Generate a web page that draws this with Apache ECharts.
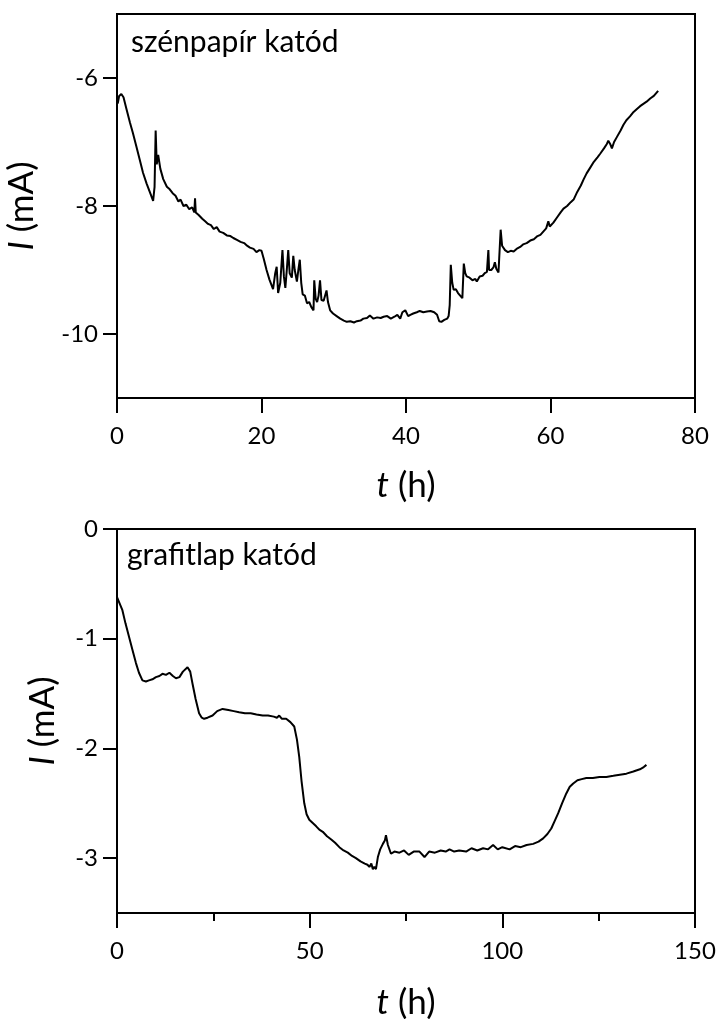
<!DOCTYPE html>
<html>
<head>
<meta charset="utf-8">
<title>I(t)</title>
<script src="https://cdn.jsdelivr.net/npm/echarts@6/dist/echarts.min.js"></script>
<style>
  html, body { margin: 0; padding: 0; background: #fff; }
  #chart { width: 718px; height: 1019px; }
</style>
</head>
<body>
<div id="chart"></div>
<script>
// szénpapír katód – t (h)
const topT = [
  0.1, 0.3, 0.6, 0.9, 1.3, 1.8, 2.2, 2.7, 3.2, 3.6, 4.1, 4.6, 5.0, 5.2, 5.35, 5.5, 5.7, 6.0, 6.4, 6.9,
  7.3, 7.7, 8.1, 8.5, 8.8, 9.2, 9.6, 10.0, 10.4, 10.7, 10.8, 10.9, 11.3, 11.8, 12.2, 12.6, 13.0, 13.4, 13.8, 14.2,
  14.7, 15.2, 15.7, 16.1, 16.6, 17.1, 17.6, 18.0, 18.4, 18.9, 19.3, 19.7, 20.0, 20.3, 20.7, 21.1, 21.6, 21.9, 22.1, 22.3,
  22.6, 22.9, 23.1, 23.3, 23.5, 23.7, 23.9, 24.2, 24.4, 24.6, 24.9, 25.1, 25.3, 25.5, 25.7, 26.0, 26.3, 26.6, 26.9, 27.2,
  27.3, 27.5, 27.7, 27.9, 28.1, 28.3, 28.6, 29.0, 29.2, 29.5, 29.9, 30.4, 30.9, 31.4, 31.8, 32.3, 32.8, 33.2, 33.7, 34.1,
  34.6, 35.0, 35.5, 36.0, 36.5, 36.9, 37.4, 37.9, 38.4, 38.8, 39.2, 39.5, 39.9, 40.3, 40.6, 41.0, 41.5, 41.9, 42.4, 42.9,
  43.4, 43.9, 44.3, 44.6, 44.9, 45.3, 45.7, 45.9, 46.05, 46.2, 46.4, 46.6, 46.9, 47.2, 47.5, 47.8, 48.0, 48.2, 48.4, 48.8,
  49.2, 49.6, 49.8, 50.2, 50.6, 50.9, 51.2, 51.4, 51.5, 51.8, 52.1, 52.3, 52.5, 52.8, 53.0, 53.1, 53.3, 53.7, 54.1, 54.5,
  54.9, 55.3, 55.8, 56.2, 56.7, 57.2, 57.7, 58.2, 58.6, 59.0, 59.4, 59.7, 59.9, 60.4, 60.9, 61.4, 61.8, 62.3, 62.8, 63.2,
  63.7, 64.2, 64.6, 65.0, 65.5, 66.0, 66.5, 66.9, 67.4, 67.8, 68.0, 68.3, 68.5, 68.8, 69.2, 69.7, 70.1, 70.5, 71.0, 71.5,
  72.0, 72.4, 72.9, 73.3, 73.8, 74.3, 74.6, 74.9
]
// szénpapír katód – I (mA)
const topI = [
  -6.40, -6.28, -6.25, -6.30, -6.48, -6.70, -6.86, -7.08, -7.30, -7.48, -7.65, -7.80, -7.92, -7.70, -6.82, -7.35, -7.20, -7.42, -7.58, -7.70,
  -7.74, -7.80, -7.84, -7.93, -7.90, -8.00, -7.98, -8.05, -8.02, -8.10, -7.88, -8.10, -8.14, -8.20, -8.24, -8.28, -8.30, -8.36, -8.33, -8.40,
  -8.42, -8.46, -8.47, -8.50, -8.53, -8.56, -8.58, -8.62, -8.65, -8.67, -8.72, -8.69, -8.70, -8.82, -9.00, -9.15, -9.30, -9.05, -8.95, -9.36,
  -9.20, -8.69, -9.10, -9.28, -9.00, -8.69, -9.05, -9.12, -8.78, -9.00, -9.18, -9.00, -8.84, -9.20, -9.38, -9.40, -9.52, -9.50, -9.58, -9.63,
  -9.16, -9.45, -9.50, -9.40, -9.16, -9.47, -9.48, -9.32, -9.50, -9.63, -9.68, -9.72, -9.76, -9.79, -9.81, -9.80, -9.82, -9.80, -9.79, -9.76,
  -9.75, -9.71, -9.76, -9.74, -9.75, -9.73, -9.72, -9.76, -9.73, -9.70, -9.76, -9.66, -9.63, -9.72, -9.70, -9.68, -9.66, -9.64, -9.66, -9.65,
  -9.64, -9.66, -9.70, -9.80, -9.81, -9.78, -9.76, -9.72, -9.55, -8.92, -9.20, -9.31, -9.30, -9.36, -9.40, -9.44, -8.90, -9.05, -9.10, -9.12,
  -9.16, -9.14, -9.18, -9.10, -9.09, -9.05, -9.03, -8.69, -9.00, -9.00, -8.96, -8.88, -8.98, -9.04, -9.05, -8.37, -8.62, -8.69, -8.72, -8.70,
  -8.71, -8.67, -8.64, -8.60, -8.58, -8.54, -8.52, -8.47, -8.45, -8.40, -8.35, -8.24, -8.32, -8.26, -8.18, -8.10, -8.04, -8.00, -7.94, -7.90,
  -7.78, -7.68, -7.58, -7.49, -7.40, -7.31, -7.24, -7.18, -7.10, -7.03, -6.98, -7.04, -7.10, -7.00, -6.92, -6.82, -6.73, -6.66, -6.60, -6.53,
  -6.48, -6.44, -6.40, -6.37, -6.32, -6.28, -6.24, -6.20
]

// grafitlap katód – t (h)
const bottomT = [
  0.0, 0.5, 1.4, 2.2, 3.1, 4.0, 4.9, 5.7, 6.6, 7.5, 8.3, 9.2, 10.1, 11.0, 11.8, 12.7, 13.6, 14.5, 15.3, 16.2,
  17.1, 18.3, 19.0, 19.6, 20.4, 21.3, 22.0, 22.6, 23.5, 24.8, 26.0, 27.4, 28.9, 30.3, 31.7, 33.2, 34.7, 36.2, 37.8, 39.2,
  40.7, 41.5, 42.1, 42.8, 43.9, 45.0, 46.0, 46.7, 47.3, 47.9, 48.6, 49.2, 49.9, 50.8, 51.7, 52.5, 53.4, 54.5, 55.6, 56.6,
  57.7, 58.8, 59.9, 61.0, 62.0, 63.2, 64.3, 65.0, 65.5, 66.0, 66.4, 66.8, 67.2, 67.7, 68.3, 69.0, 69.5, 69.8, 70.3, 71.1,
  72.0, 73.3, 74.5, 75.7, 77.0, 78.5, 79.8, 81.0, 82.5, 84.0, 85.3, 86.3, 87.5, 88.8, 90.6, 92.0, 93.5, 95.0, 96.3, 97.6,
  98.8, 100.0, 101.9, 103.3, 104.8, 106.3, 108.0, 109.4, 110.6, 111.7, 112.7, 113.6, 114.5, 115.5, 116.6, 117.5, 118.4, 119.5, 120.6, 121.8,
  123.5, 125.2, 127.0, 128.8, 130.5, 132.2, 134.0, 135.7, 136.7, 137.4
]
// grafitlap katód – I (mA)
const bottomI = [
  -0.62, -0.63, -0.74, -0.86, -0.98, -1.10, -1.22, -1.31, -1.38, -1.39, -1.38, -1.37, -1.35, -1.34, -1.32, -1.33, -1.31, -1.34, -1.36, -1.35,
  -1.30, -1.26, -1.30, -1.41, -1.55, -1.68, -1.72, -1.73, -1.72, -1.70, -1.66, -1.64, -1.65, -1.66, -1.67, -1.68, -1.68, -1.69, -1.70, -1.70,
  -1.71, -1.72, -1.70, -1.73, -1.73, -1.76, -1.80, -1.92, -2.08, -2.30, -2.50, -2.60, -2.65, -2.68, -2.71, -2.74, -2.76, -2.80, -2.83, -2.86,
  -2.90, -2.93, -2.95, -2.98, -3.00, -3.03, -3.05, -3.06, -3.08, -3.05, -3.10, -3.08, -3.10, -2.99, -2.92, -2.87, -2.84, -2.79, -2.88, -2.96,
  -2.94, -2.95, -2.93, -2.97, -2.94, -2.94, -2.99, -2.94, -2.95, -2.93, -2.94, -2.92, -2.94, -2.93, -2.94, -2.91, -2.93, -2.91, -2.92, -2.88,
  -2.92, -2.90, -2.92, -2.89, -2.90, -2.88, -2.87, -2.85, -2.82, -2.78, -2.73, -2.66, -2.59, -2.50, -2.41, -2.35, -2.32, -2.29, -2.28, -2.27,
  -2.27, -2.26, -2.26, -2.25, -2.24, -2.23, -2.21, -2.19, -2.17, -2.15
]

// tick labels
const topXTicks = [0, 20, 40, 60, 80]
const topYTicks = [-10, -8, -6]
const bottomXTicks = [0, 50, 100, 150]
const bottomYTicks = [-3, -2, -1, 0]

const FONT = 'Lato'
const zip = (xs, ys) => xs.map((x, i) => [x, ys[i]])

const axisLine = { show: true, onZero: false, lineStyle: { color: '#000', width: 2 } }
const labelStyle = { color: '#000', fontFamily: FONT, fontSize: 24 }
const nameStyle = {
  color: '#000',
  fontFamily: FONT,
  fontSize: 35,
  rich: { it: { fontStyle: 'italic', fontFamily: FONT, fontSize: 35, color: '#000' } }
}

function xAxis (gridIndex, max, interval, ticks, minor, nameGap) {
  return {
    type: 'value',
    gridIndex,
    min: 0,
    max,
    interval,
    name: '{it|t} (h)',
    nameLocation: 'middle',
    nameGap,
    nameTextStyle: nameStyle,
    axisLine,
    axisTick: { show: true, inside: false, length: 15, lineStyle: { color: '#000', width: 2 } },
    minorTick: { show: minor, splitNumber: 2, length: 8, lineStyle: { color: '#000', width: 2 } },
    axisLabel: { ...labelStyle, margin: 26, customValues: ticks },
    splitLine: { show: false }
  }
}

function yAxis (gridIndex, min, max, ticks, nameGap) {
  return {
    type: 'value',
    gridIndex,
    min,
    max,
    name: '{it|I} (mA)',
    nameLocation: 'middle',
    nameGap,
    nameTextStyle: nameStyle,
    axisLine,
    axisTick: { show: true, inside: false, length: 14, customValues: ticks, lineStyle: { color: '#000', width: 2 } },
    axisLabel: { ...labelStyle, margin: 19, customValues: ticks },
    splitLine: { show: false }
  }
}

// a grid keret pontosan a megadott helyen maradjon (v6 outerBounds kikapcsolva)
const gridBase = {
  left: 117,
  width: 578,
  height: 384,
  show: true,
  borderColor: '#000',
  borderWidth: 2,
  backgroundColor: 'transparent',
  containLabel: false,
  outerBoundsMode: 'none'
}

const chart = echarts.init(document.getElementById('chart'), null, { renderer: 'canvas' })

chart.setOption({
  animation: false,
  backgroundColor: '#fff',
  title: [
    { text: 'szénpapír katód', left: 126, top: 22, textStyle: { fontFamily: FONT, fontSize: 30, fontWeight: 'normal', color: '#000' } },
    { text: 'grafitlap katód', left: 122, top: 535, textStyle: { fontFamily: FONT, fontSize: 30, fontWeight: 'normal', color: '#000' } }
  ],
  grid: [
    { ...gridBase, top: 14 },
    { ...gridBase, top: 529 }
  ],
  xAxis: [
    xAxis(0, 80, 20, topXTicks, false, 70),
    xAxis(1, 150, 50, bottomXTicks, true, 72)
  ],
  yAxis: [
    yAxis(0, -11, -5, topYTicks, 78),
    yAxis(1, -3.5, 0, bottomYTicks, 57)
  ],
  series: [
    {
      type: 'line',
      xAxisIndex: 0,
      yAxisIndex: 0,
      data: zip(topT, topI),
      showSymbol: false,
      lineStyle: { color: '#000', width: 2 }
    },
    {
      type: 'line',
      xAxisIndex: 1,
      yAxisIndex: 1,
      data: zip(bottomT, bottomI),
      showSymbol: false,
      lineStyle: { color: '#000', width: 2 }
    }
  ]
})
</script>
</body>
</html>
